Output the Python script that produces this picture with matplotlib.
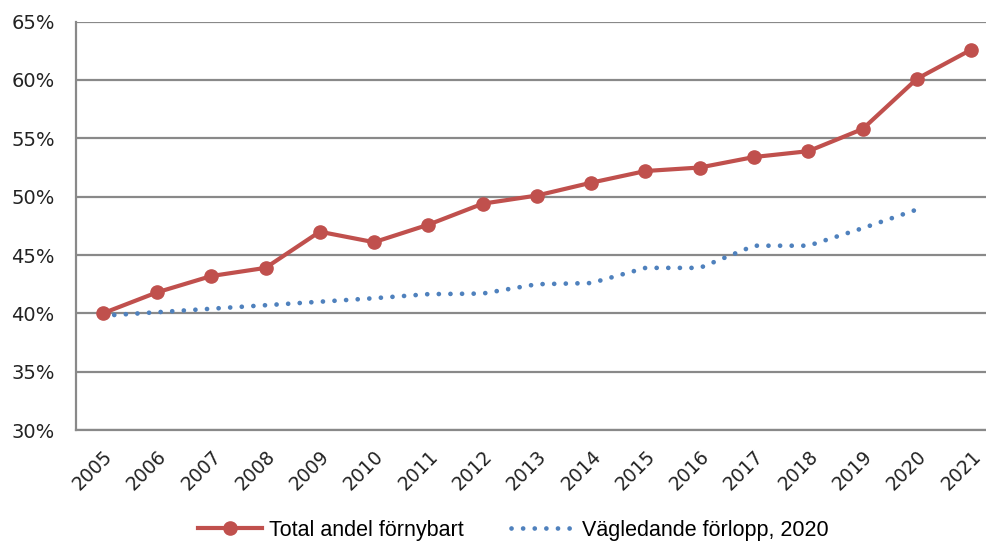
import matplotlib
matplotlib.use('Agg')
import matplotlib.pyplot as plt
from matplotlib.ticker import FuncFormatter

# Data
years = [str(y) for y in range(2005, 2022)]
total_andel = [40.0, 41.8, 43.2, 43.9, 47.0, 46.1, 47.6, 49.4, 50.1, 51.2,
               52.2, 52.5, 53.4, 53.9, 55.8, 60.1, 62.6]
vagledande_years = [str(y) for y in range(2005, 2021)]
vagledande = [39.8, 40.1, 40.4, 40.7, 41.0, 41.3, 41.65, 41.7, 42.5, 42.6,
              43.9, 43.9, 45.8, 45.8, 47.3, 48.9]

red = '#C0504D'
blue = '#4F81BD'
grid_col = '#898989'

fig = plt.figure(figsize=(9.87, 5.41), dpi=100)
ax = fig.add_axes([0.0765, 0.205, 0.935, 0.755])

x_total = list(range(len(years)))
x_vag = list(range(len(vagledande_years)))

ax.plot(x_total, total_andel, color=red, linewidth=3, marker='o',
        markersize=9.5, label='Total andel förnybart', zorder=3)
ax.plot(x_vag, vagledande, color=blue, linewidth=3.4,
        linestyle=(0, (0.01, 2.45)), dash_capstyle='round',
        label='Vägledande förlopp, 2020', zorder=2)

ax.set_xlim(-0.5, len(years) - 0.5)
ax.set_ylim(30, 65)
ax.set_yticks(range(30, 66, 5))
ax.yaxis.set_major_formatter(FuncFormatter(lambda v, p: f'{v:.0f}%'))
ax.set_xticks(x_total)
ax.set_xticklabels(years, rotation=45, ha='right', rotation_mode='anchor')

ax.grid(axis='y', color=grid_col, linewidth=1.6)
ax.set_axisbelow(True)
for s in ['top', 'right']:
    ax.spines[s].set_visible(False)
for s in ['left', 'bottom']:
    ax.spines[s].set_color(grid_col)
    ax.spines[s].set_linewidth(1.6)

ax.tick_params(axis='both', length=0, colors='#222222')
ax.tick_params(axis='y', pad=15, labelsize=14)
ax.tick_params(axis='x', pad=12, labelsize=13.5)

leg = fig.legend(loc='lower center', ncol=2, frameon=False,
                 bbox_to_anchor=(0.52, -0.035), handlelength=3.0,
                 columnspacing=2.2, handletextpad=0.3,
                 prop={'family': 'Liberation Sans', 'size': 15.5})

fig.savefig('out.png', dpi=100)
